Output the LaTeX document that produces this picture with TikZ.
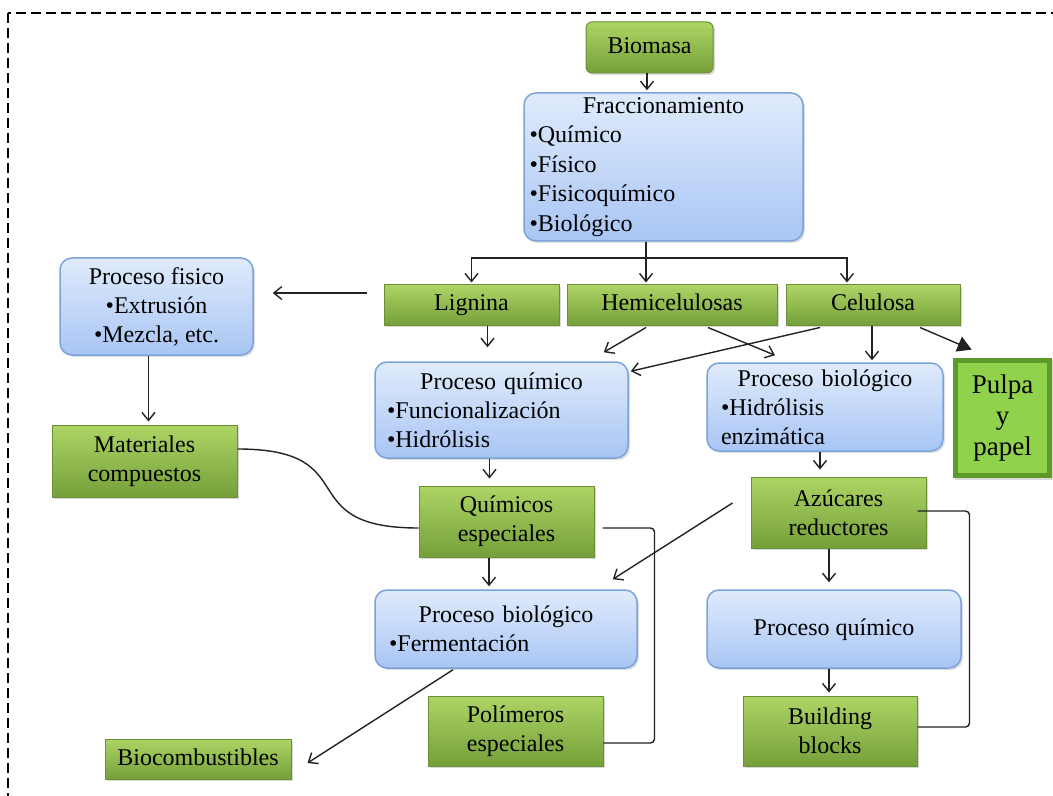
\documentclass[tikz,border=0pt]{standalone}
\usepackage{fontspec}
\setmainfont{Liberation Serif}
\usetikzlibrary{arrows.meta,shadows,calc}
\definecolor{gtop}{HTML}{ADD464}
\definecolor{gbot}{HTML}{75A03A}
\definecolor{gline}{HTML}{6B8F35}
\definecolor{btop}{HTML}{E0EBFC}
\definecolor{bbot}{HTML}{A8C5F4}
\definecolor{bline}{HTML}{7BA3DA}
\definecolor{pfill}{HTML}{90D24C}
\definecolor{pline}{HTML}{5E9A2A}
\definecolor{ink}{HTML}{222222}
\tikzset{
  sz/.style 2 args={minimum width=#1*0.5pt, minimum height=#2*0.5pt},
  one/.style={text height=8.5pt, text depth=2.5pt},
  gbox/.style={rectangle, draw=gline, line width=0.5pt, top color=gtop, bottom color=gbot,
    drop shadow={opacity=0.3,shadow xshift=1pt,shadow yshift=-1pt}, align=center, inner sep=2pt},
  bbox/.style={rectangle, rounded corners=6pt, draw=bline, line width=0.75pt, top color=btop, bottom color=bbot,
    drop shadow={opacity=0.25,shadow xshift=1pt,shadow yshift=-1pt}, inner sep=2pt},
  pbox/.style={rectangle, fill=pline, align=center,
    drop shadow={opacity=0.3,shadow xshift=1pt,shadow yshift=-1pt},
    path picture={\fill[pfill] ([shift={(2.5pt,-2.5pt)}]path picture bounding box.north west)
      rectangle ([shift={(-2.5pt,2.5pt)}]path picture bounding box.south east);},
    font=\fontsize{13.5}{15.5}\selectfont},
  line/.style={draw=ink, line width=0.7pt},
  arr/.style={line, -{Straight Barb[length=4pt,width=6.5pt]}},
  tri/.style={line, -{Triangle[length=7pt,width=8pt]}}
}
\begin{document}
\begin{tikzpicture}[x=0.5pt,y=-0.5pt, font=\fontsize{12}{14.5}\selectfont]
\useasboundingbox (0,0) rectangle (1053,796);
\draw[line width=1.4pt, dash pattern=on 5pt off 2.5pt] (8,13) rectangle (1075,815);

\node[gbox, one, sz={127}{51}, rounded corners=3pt] (biomasa) at (649.5,47.5) {Biomasa};
\node[bbox, sz={279}{148}, inner xsep=2.5pt, text width=134pt, align=left, font=\fontsize{12}{14.75}\selectfont] (fracc) at (663.5,167)
  {\makebox[\linewidth]{Fraccionamiento}\\•Químico\\•Físico\\•Fisicoquímico\\•Biológico};
\node[gbox, one, sz={175}{40}] (lignina) at (471.5,305) {Lignina};
\node[gbox, one, sz={210}{40}] (hemi) at (672,305) {Hemicelulosas};
\node[gbox, one, sz={174}{40}] (celu) at (873,305) {Celulosa};
\node[bbox, sz={193}{97}, align=center] (pfis) at (156.5,306.5) {Proceso fisico\\•Extrusión\\•Mezcla, etc.};
\node[gbox, sz={185}{72}] (matcomp) at (144.5,461) {Materiales\\compuestos};
\node[bbox, sz={253}{96}, inner xsep=6pt, text width=114.5pt, align=left] (pquim1) at (501.5,410)
  {\makebox[\linewidth]{Proceso químico}\\•Funcionalización\\•Hidrólisis};
\node[bbox, sz={236}{88}, inner xsep=7pt, text width=104pt, align=left] (pbio1) at (825,407)
  {\makebox[\linewidth]{Proceso biológico}\\•Hidrólisis\\enzimática};
\node[pbox, sz={99}{120}] (pulpa) at (1002.5,418) {Pulpa\\y\\papel};
\node[gbox, sz={175}{71}] (azuc) at (838.5,512.5) {Azúcares\\reductores};
\node[gbox, sz={175}{71}] (quimesp) at (506.5,521.5) {Químicos\\especiales};
\node[bbox, sz={262}{78}, inner xsep=7pt, text width=117pt, align=left] (pbio2) at (506,629)
  {\makebox[\linewidth]{Proceso biológico}\\•Fermentación};
\node[bbox, one, sz={254}{78}, align=center] (pquim2) at (834,629) {Proceso químico};
\node[gbox, one, sz={186}{40}] (bioc) at (198,759) {Biocombustibles};
\node[gbox, sz={175}{70}] (polim) at (515.5,731) {Polímeros\\especiales};
\node[gbox, sz={174}{70}] (bblocks) at (830,731) {Building\\blocks};

% connectors
\draw[arr, shorten >=1pt] ([xshift=-1.25pt]biomasa.south) -- ([xshift=-1.25pt]biomasa.south |- fracc.north);
\coordinate (br) at (646,258);
\draw[line] (fracc.south -| br) -- (br);
\draw[arr, shorten >=1pt] (br) -| (lignina.north);
\draw[arr, shorten >=1pt] (br) -- (br |- hemi.north);
\draw[arr, shorten >=1pt] (br) -| ([xshift=-13pt]celu.north);

\draw[arr, shorten <=8.5pt, shorten >=9.5pt] ([yshift=6pt]lignina.west) -- ([yshift=6pt]lignina.west -| pfis.east);
\draw[arr, shorten >=7pt] ([xshift=8pt]lignina.south) -- ([xshift=8pt]lignina.south |- pquim1.north);
\draw[arr] ([xshift=-13pt,yshift=-1pt]hemi.south) -- ([xshift=-12.5pt,yshift=4.5pt]pquim1.north east);
\draw[arr] ([xshift=18pt,yshift=-1pt]hemi.south) -- ([xshift=-25pt,yshift=3.5pt]pbio1.north);
\draw[arr] ([xshift=-26.5pt,yshift=-1pt]celu.south) -- ([xshift=1pt,yshift=-5pt]pquim1.north east);
\draw[arr, shorten >=1pt] ([xshift=-0.5pt]celu.south) -- ([xshift=-0.5pt]celu.south |- pbio1.north);
\draw[tri] ([xshift=23.5pt,yshift=-1pt]celu.south) -- ([xshift=9.5pt,yshift=4pt]pulpa.north west);

\draw[arr, shorten >=1.5pt] ([xshift=-4pt]pfis.south) -- ([xshift=-4pt]pfis.south |- matcomp.north);
\draw[arr, shorten >=3.5pt] ([xshift=-6pt]pquim1.south) -- ([xshift=-6pt]pquim1.south |- quimesp.north);
\draw[arr, shorten >=3.5pt] ([xshift=-2.5pt]pbio1.south) -- ([xshift=-2.5pt]pbio1.south |- azuc.north);

\draw[line] ([yshift=6pt]matcomp.east) .. controls +(130,0) and +(-130,0) .. ([yshift=-3.25pt]quimesp.west);
\draw[line, rounded corners=2pt] ([xshift=4pt,yshift=-3.25pt]quimesp.east) -- ++(52,0) |- ([yshift=-6pt]polim.east);
\draw[arr, shorten >=1.5pt] ([xshift=-8.75pt]quimesp.south) -- ([xshift=-8.75pt]quimesp.south |- pbio2.north);
\draw[arr] ([xshift=-9pt,yshift=4.75pt]azuc.west) -- ([xshift=-12.5pt,yshift=5pt]pbio2.north east);
\draw[arr] ([xshift=-26.5pt,yshift=-0.5pt]pbio2.south) -- ([xshift=8pt,yshift=-2pt]bioc.east);
\draw[arr, shorten >=3.5pt] ([xshift=-4.75pt]azuc.south) -- ([xshift=-4.75pt]azuc.south |- pquim2.north);
\draw[arr, shorten >=1.5pt] ([xshift=-2.5pt]pquim2.south) -- ([xshift=-2.5pt]pquim2.south |- bblocks.north);
\draw[line, rounded corners=2pt] ([xshift=-4.5pt,yshift=0.75pt]azuc.east) -- ++(52,0) |- ([yshift=2pt]bblocks.east);
\end{tikzpicture}
\end{document}
